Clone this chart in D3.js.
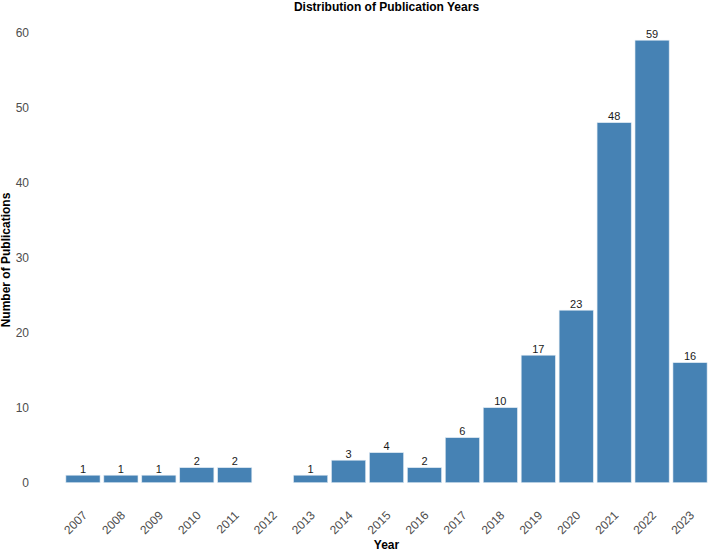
<!DOCTYPE html>
<html>
<head>
<meta charset="utf-8">
<script src="https://cdn.jsdelivr.net/npm/d3@7/dist/d3.min.js"></script>
<style>
  body { margin: 0; background: #fff; }
  svg { display: block; font-family: "Liberation Sans", Arial, sans-serif; }
</style>
</head>
<body>
<svg id="chart" width="709" height="551"></svg>
<script>
const years = ["2007","2008","2009","2010","2011","2012","2013","2014","2015","2016","2017","2018","2019","2020","2021","2022","2023"];
const counts = [1,1,1,2,2,0,1,3,4,2,6,10,17,23,48,59,16];
const yTicks = [0,10,20,30,40,50,60];
const title = "Distribution of Publication Years";
const xLabel = "Year";
const yLabel = "Number of Publications";

const svg = d3.select("#chart");
const x = d3.scaleBand().domain(years).range([64, 709]).paddingInner(0.1).paddingOuter(0.05);
const y = d3.scaleLinear().domain([0, 60]).range([482.7, 32.7]);

const data = years.map((yr, i) => ({ year: yr, n: counts[i] }));

svg.append("g").selectAll("rect")
  .data(data.filter(d => d.n > 0))
  .join("rect")
  .attr("x", d => x(d.year))
  .attr("width", x.bandwidth())
  .attr("y", d => y(d.n))
  .attr("height", d => y(0) - y(d.n))
  .attr("fill", "#4682B4")
  .attr("stroke", "#dce8f2")
  .attr("stroke-width", 0.6);

svg.append("g").selectAll("text")
  .data(data.filter(d => d.n > 0))
  .join("text")
  .attr("x", d => x(d.year) + x.bandwidth() / 2)
  .attr("y", d => y(d.n) - 2.5)
  .attr("text-anchor", "middle")
  .attr("font-size", 11)
  .attr("fill", "#1a1a1a")
  .text(d => d.n);

// y axis
const yAxis = d3.axisLeft(y).tickValues(yTicks).tickSize(0).tickPadding(0);
const gy = svg.append("g").attr("transform", "translate(29,0)").call(yAxis);
gy.select(".domain").remove();
gy.selectAll("text").attr("font-size", 12).attr("fill", "#4d4d4d")
  .attr("font-family", "Liberation Sans, Arial, sans-serif");

// x axis
const xAxis = d3.axisBottom(x).tickSize(0).tickPadding(0);
const gx = svg.append("g").attr("transform", "translate(0,0)").call(xAxis);
gx.select(".domain").remove();
gx.selectAll(".tick").attr("transform", d => `translate(${x(d) + x.bandwidth() / 2 + 5},516)`);
gx.selectAll("text")
  .attr("y", 0).attr("dy", 0)
  .attr("transform", "rotate(-45)")
  .attr("text-anchor", "end")
  .attr("font-size", 12).attr("fill", "#4d4d4d")
  .attr("font-family", "Liberation Sans, Arial, sans-serif");

svg.append("text")
  .attr("x", 386.5).attr("y", 11)
  .attr("text-anchor", "middle")
  .attr("font-size", 12).attr("font-weight", "bold").attr("fill", "#000")
  .text(title);

svg.append("text")
  .attr("x", 386.5).attr("y", 549)
  .attr("text-anchor", "middle")
  .attr("font-size", 12).attr("font-weight", "bold").attr("fill", "#000")
  .text(xLabel);

svg.append("text")
  .attr("transform", "translate(10,260) rotate(-90)")
  .attr("text-anchor", "middle")
  .attr("font-size", 12).attr("font-weight", "bold").attr("fill", "#000")
  .text(yLabel);
</script>
</body>
</html>
